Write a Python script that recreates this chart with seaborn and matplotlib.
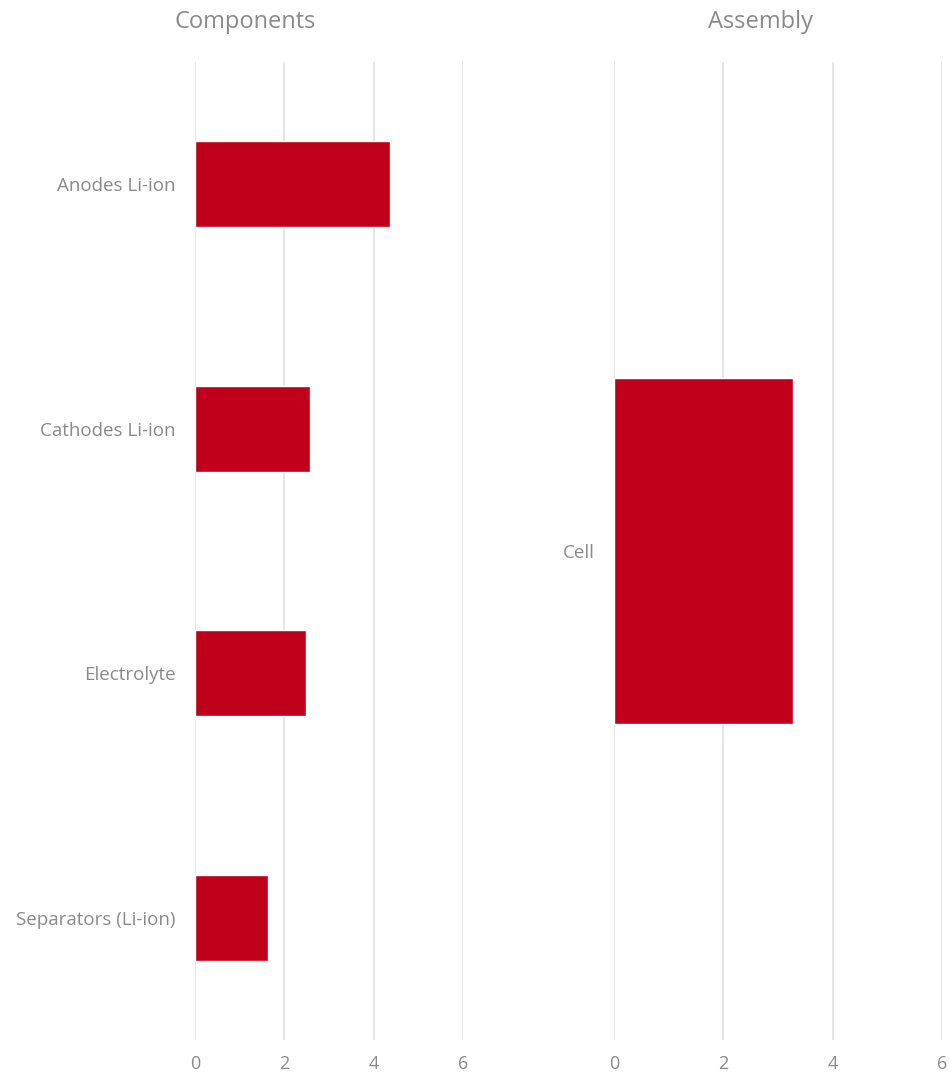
import matplotlib
matplotlib.use("Agg")
import matplotlib.pyplot as plt
import seaborn as sns
import pandas as pd

components = ["Anodes Li-ion", "Cathodes Li-ion", "Electrolyte", "Separators (Li-ion)"]
component_values = [4.36, 2.57, 2.48, 1.63]
assembly = ["Cell"]
assembly_values = [3.27]
x_ticks = [0, 2, 4, 6]
titles = ["Components", "Assembly"]

sns.set_theme(style="white")
plt.rcParams["font.family"] = ["Open Sans", "DejaVu Sans"]

BAR = "#C0001A"
GRID = "#E3E3E3"
TXT = "#8A8A8A"

fig = plt.figure(figsize=(9.49, 10.75), dpi=100)
bottom = 1 - 1040 / 1075
height = (1040 - 62) / 1075
ax1 = fig.add_axes([195 / 949, bottom, (463 - 195) / 949, height])
ax2 = fig.add_axes([614 / 949, bottom, (942 - 614) / 949, height])

df1 = pd.DataFrame({"cat": components, "val": component_values})
df2 = pd.DataFrame({"cat": assembly, "val": assembly_values})

sns.barplot(data=df1, x="val", y="cat", orient="h", color=BAR, width=0.35,
            saturation=1, ax=ax1)
sns.barplot(data=df2, x="val", y="cat", orient="h", color=BAR, width=0.354,
            saturation=1, ax=ax2)

for ax, n in ((ax1, len(components)), (ax2, len(assembly))):
    ax.set_xlim(0, 6)
    ax.set_ylim(n - 0.5, -0.5)
    ax.set_xticks(x_ticks)
    ax.set_xticklabels([str(t) for t in x_ticks])
    ax.set_xlabel("")
    ax.set_ylabel("")
    for s in ax.spines.values():
        s.set_visible(False)
    ax.grid(axis="x", color=GRID, linewidth=1.3)
    ax.grid(axis="y", visible=False)
    ax.set_axisbelow(True)
    ax.tick_params(axis="x", length=0, pad=11, labelsize=13, labelcolor=TXT)
    ax.tick_params(axis="y", length=0, pad=14, labelsize=13.5, labelcolor=TXT)

fig.text(245 / 949, 1 - 22 / 1075, titles[0], ha="center", va="center",
         fontsize=17, color=TXT)
fig.text(760 / 949, 1 - 22 / 1075, titles[1], ha="center", va="center",
         fontsize=17, color=TXT)

fig.savefig("out.png", dpi=100, facecolor="white")
